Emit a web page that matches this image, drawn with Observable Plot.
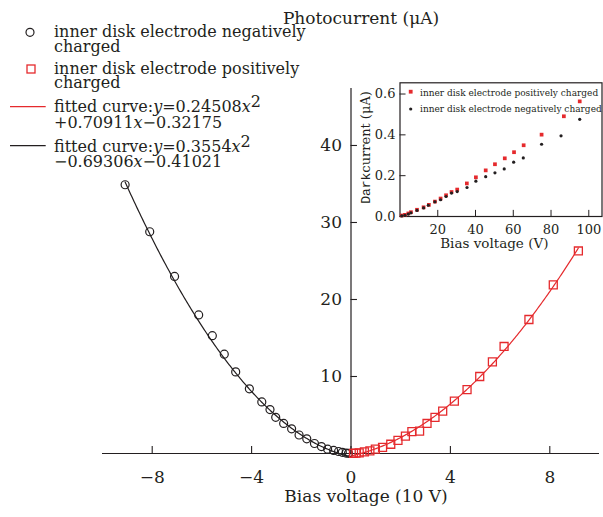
<!DOCTYPE html>
<html><head><meta charset="utf-8">
<script src="https://cdn.jsdelivr.net/npm/d3@7"></script>
<script src="https://cdn.jsdelivr.net/npm/@observablehq/plot@0.6"></script>
<style>
body{margin:0;background:#fff;}
#wrap{position:relative;width:603px;height:517px;overflow:hidden;}
#main,#inset{position:absolute;}
#main{left:0;top:0;}
#inset{left:355px;top:70px;}
</style></head><body><div id="wrap"><div id="main"></div><div id="inset"></div></div>
<script>
// Main chart: photocurrent vs bias voltage (10 V)
const negX = [-9.09,-8.10,-7.10,-6.13,-5.58,-5.10,-4.64,-4.09,-3.59,-3.26,-3.03,-2.71,-2.39,-2.09,-1.78,-1.47,-1.19,-0.94,-0.70,-0.50,-0.35,-0.20,-0.10];
const negY = [34.9,28.8,23.0,18.0,15.3,12.9,10.6,8.4,6.7,5.7,4.7,3.9,3.2,2.4,1.9,1.3,0.9,0.56,0.40,0.26,0.15,0.05,0.02];
const posX = [0.10,0.20,0.33,0.54,0.76,0.98,1.27,1.60,1.89,2.19,2.45,2.76,3.06,3.38,3.69,4.16,4.67,5.18,5.69,6.16,7.16,8.14,9.15];
const posY = [0.03,0.05,0.09,0.22,0.35,0.56,0.80,1.2,1.7,2.25,2.85,2.9,3.9,4.7,5.5,6.8,8.3,10.0,11.9,13.9,17.4,21.9,26.3];
// fitted curve coefficients (a, b, c) for y = a x^2 + b x + c
const fitPos = [0.24508, 0.70911, -0.32175];
const fitNeg = [0.3554, -0.69306, -0.41021];
const xTicks = [-8,-4,0,4,8];
const xTickLabels = ["\u22128","\u22124","0","4","8"];
const yTicks = [10,20,30,40];
const yTickLabels = ["10","20","30","40"];
// Inset: dark current vs bias voltage (V)
const darkPosV = [0.9,2.6,4.4,5.8,9.0,12.5,15.3,18.5,21.5,24.4,27.3,30.3,35.4,40.2,45.4,50.3,55.5,60.4,65.5,75.0,86.8,95.2];
const darkPosI = [0.005,0.008,0.015,0.021,0.033,0.045,0.057,0.073,0.088,0.104,0.120,0.132,0.162,0.192,0.226,0.256,0.285,0.315,0.349,0.401,0.491,0.564];
const darkNegV = [0.9,2.6,4.4,5.8,9.0,12.5,15.0,18.5,21.5,24.4,27.3,30.3,35.5,40.2,45.4,50.3,55.2,60.2,65.3,75.0,85.3,95.2];
const darkNegI = [0.003,0.006,0.012,0.018,0.030,0.042,0.055,0.072,0.082,0.098,0.115,0.122,0.142,0.173,0.195,0.214,0.233,0.266,0.287,0.354,0.395,0.476];
const insetXTicks = [20,40,60,80,100];
const insetXTickLabels = ["20","40","60","80","100"];
const insetYTicks = [0,0.2,0.4,0.6];
const insetYTickLabels = ["0.0","0.2","0.4","0.6"];

const ink = "#231f20";
const red = "#e52a2d";
const serif = "DejaVu Serif";

const negData = negX.map((x,i)=>({x, y:negY[i]}));
const posData = posX.map((x,i)=>({x, y:posY[i]}));
const fitCurve = (c, a, b) => d3.range(0, 201).map(i => { const x = a + (b - a) * i / 200; return {x, y: c[0]*x*x + c[1]*x + c[2]}; });
const curveNeg = fitCurve(fitNeg, d3.min(negX), 0);
const curvePos = fitCurve(fitPos, 0, d3.max(posX));

const main = Plot.plot({
  width: 603, height: 517,
  marginLeft: 102, marginRight: 4, marginTop: 88, marginBottom: 64,
  x: {domain: [-10, 10], axis: null},
  y: {domain: [0, 47.4], axis: null},
  style: {fontFamily: serif, background: "transparent", color: ink, overflow: "visible"},
  marks: [
    Plot.ruleY([0], {stroke: ink, strokeWidth: 1.2}),
    Plot.ruleX([0], {stroke: ink, strokeWidth: 1.2}),
    Plot.ruleX(xTicks, {x: d => d, y1: 0, y2: 0.9, stroke: ink, strokeWidth: 1.1}),
    Plot.ruleY(yTicks, {y: d => d, x1: 0, x2: 0.26, stroke: ink, strokeWidth: 1.1}),
    Plot.text(xTicks, {x: d => d, y: 0, text: (d, i) => xTickLabels[i], dy: 24, fontSize: 17, fill: ink}),
    Plot.text(yTicks, {x: 0, y: d => d, text: (d, i) => yTickLabels[i], dx: -9, textAnchor: "end", fontSize: 17, fill: ink}),
    Plot.line(curveNeg, {x: "x", y: "y", stroke: ink, strokeWidth: 1.2}),
    Plot.line(curvePos, {x: "x", y: "y", stroke: red, strokeWidth: 1.2}),
    Plot.dot(negData, {x: "x", y: "y", r: 4, stroke: ink, strokeWidth: 1.2, fill: "none"}),
    Plot.dot(posData, {x: "x", y: "y", r: 4.5, symbol: "square", stroke: red, strokeWidth: 1.3, fill: "none"}),
    Plot.text(["Bias voltage (10 V)"], {frameAnchor: "bottom", dx: 15, dy: 48, fontSize: 17, fill: ink}),
    Plot.text(["Photocurrent (\u03bcA)"], {frameAnchor: "top", dx: 10, dy: -77, fontSize: 17, fill: ink})
  ]
});
document.getElementById("main").appendChild(main);

// main legend
const lg = d3.select(main).append("g").attr("font-family", serif).attr("font-size", 16).attr("fill", ink).attr("text-anchor", "start");
lg.append("circle").attr("cx", 30).attr("cy", 32.3).attr("r", 4).attr("fill", "none").attr("stroke", ink).attr("stroke-width", 1.2);
lg.append("rect").attr("x", 27).attr("y", 65).attr("width", 8).attr("height", 8).attr("fill", "none").attr("stroke", red).attr("stroke-width", 1.3);
lg.append("line").attr("x1", 10).attr("x2", 45.7).attr("y1", 106.7).attr("y2", 106.7).attr("stroke", red).attr("stroke-width", 1.2);
lg.append("line").attr("x1", 10).attr("x2", 45.7).attr("y1", 145.7).attr("y2", 145.7).attr("stroke", ink).attr("stroke-width", 1.2);
const plain = [["inner disk electrode negatively", 36.7], ["charged", 51.7], ["inner disk electrode positively", 74], ["charged", 88.3]];
plain.forEach(([t, y]) => lg.append("text").attr("x", 54).attr("y", y).text(t));
function eq(y, parts) {
  const t = lg.append("text").attr("x", 54).attr("y", y);
  parts.forEach(p => {
    const s = t.append("tspan").text(p.t);
    if (p.i) s.attr("font-style", "italic");
    if (p.sup) s.attr("dy", -5);
  });
}
eq(111.7, [{t: "fitted curve:"}, {t: "y", i: 1}, {t: "=0.24508"}, {t: "x", i: 1}, {t: "2", sup: 1}]);
eq(128.3, [{t: "+0.70911"}, {t: "x", i: 1}, {t: "\u22120.32175"}]);
eq(151.7, [{t: "fitted curve:"}, {t: "y", i: 1}, {t: "=0.3554"}, {t: "x", i: 1}, {t: "2", sup: 1}]);
eq(166.7, [{t: "\u22120.69306"}, {t: "x", i: 1}, {t: "\u22120.41021"}]);

// Inset
const dPos = darkPosV.map((v,i)=>({v, c: darkPosI[i]}));
const dNeg = darkNegV.map((v,i)=>({v, c: darkNegI[i]}));
const inset = Plot.plot({
  width: 248, height: 190,
  marginLeft: 44.5, marginRight: 1.5, marginTop: 12.3, marginBottom: 44,
  x: {domain: [0, 107], axis: null},
  y: {domain: [0, 0.655], axis: null},
  style: {fontFamily: serif, background: "transparent", color: ink, overflow: "visible"},
  marks: [
    Plot.frame({stroke: ink, strokeWidth: 1.2}),
    Plot.ruleX(insetXTicks, {x: d => d, y1: 0, y2: 0.03, stroke: ink}),
    Plot.ruleY(insetYTicks, {y: d => d, x1: 0, x2: 3.2, stroke: ink}),
    Plot.text(insetXTicks, {x: d => d, y: 0, text: (d, i) => insetXTickLabels[i], dy: 13, fontSize: 13, fill: ink}),
    Plot.text(insetYTicks, {x: 0, y: d => d, text: (d, i) => insetYTickLabels[i], dx: -4.5, textAnchor: "end", fontSize: 13, fill: ink}),
    Plot.dot(dPos, {x: "v", y: "c", r: 2.1, symbol: "square", fill: red}),
    Plot.dot(dNeg, {x: "v", y: "c", r: 1.6, fill: ink}),
    Plot.text(["Bias voltage (V)"], {frameAnchor: "bottom", dx: -6.7, dy: 31.3, fontSize: 13.5, fill: ink})
  ]
});
document.getElementById("inset").appendChild(inset);
const ig = d3.select(inset).append("g").attr("font-family", serif).attr("fill", ink).attr("text-anchor", "start");
const yl = ig.append("text").attr("transform", "translate(14.5,77.5) rotate(-90)").attr("text-anchor", "middle").attr("font-size", 13);
yl.append("tspan").attr("font-family", "Liberation Mono").text("Dark");
yl.append("tspan").text("current (\u03bcA)");
ig.append("rect").attr("x", 53.8).attr("y", 19.8).attr("width", 3.8).attr("height", 3.8).attr("fill", red);
ig.append("circle").attr("cx", 55.7).attr("cy", 39).attr("r", 1.6).attr("fill", ink);
ig.append("text").attr("x", 65).attr("y", 25.7).attr("font-size", 9).text("inner disk electrode positively charged");
ig.append("text").attr("x", 65).attr("y", 42.3).attr("font-size", 9).text("inner disk electrode negatively charged");
</script></body></html>
